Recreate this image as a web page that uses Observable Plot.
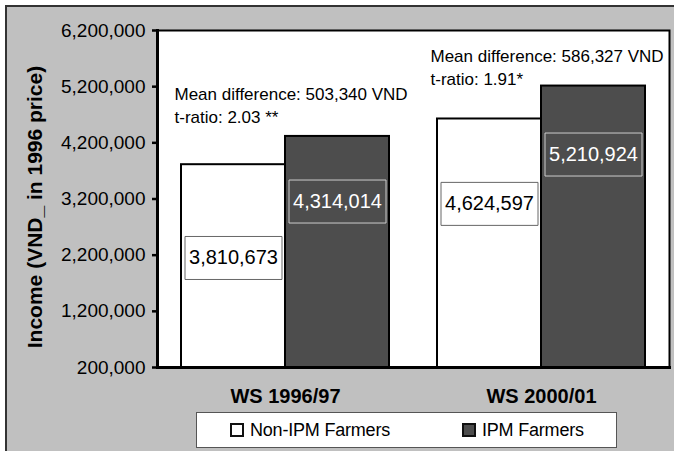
<!DOCTYPE html>
<html>
<head>
<meta charset="utf-8">
<script src="https://cdn.jsdelivr.net/npm/d3@7"></script>
<script src="https://cdn.jsdelivr.net/npm/@observablehq/plot@0.6"></script>
<style>
  html, body { margin: 0; padding: 0; background: #fff; }
  body { width: 674px; height: 451px; position: relative; overflow: hidden; font-family: "Liberation Sans", Arial, sans-serif; }
  #bg { position: absolute; left: 5px; top: 5px; width: 720px; height: 520px; background: #c0c0c0; border-left: 2px solid #333; border-top: 2px solid #333; }
  #chart { position: absolute; left: 0; top: 0; }
  #legend { position: absolute; left: 196px; top: 412px; width: 419px; height: 34px; background: #fff; border: 1px solid #555; }
  .item { position: absolute; top: 0; height: 34px; display: flex; align-items: center; font-size: 18px; color: #000; letter-spacing: -0.2px; }
  .sw { width: 10px; height: 10px; border: 2px solid #111; margin-right: 6px; }
</style>
</head>
<body>
<div id="bg"></div>
<div id="chart"></div>
<div id="legend"></div>
<script>
// ---- data ----
const seasons = ["WS 1996/97", "WS 2000/01"];
const groups = ["Non-IPM Farmers", "IPM Farmers"];
const nonIpmIncome = [3810673, 4624597];
const ipmIncome = [4314014, 5210924];
const meanDifference = ["503,340 VND", "586,327 VND"];
const tRatio = ["2.03 **", "1.91*"];
const yTicks = [200000, 1200000, 2200000, 3200000, 4200000, 5200000, 6200000];
// where each value label box sits (data units)
const nonIpmLabelAt = [2150000, 3113000];
const ipmLabelAt = [3155000, 3992000];

const fmt = d3.format(",");
const nonRows = seasons.map((s, i) => ({season: s, value: nonIpmIncome[i], at: nonIpmLabelAt[i]}));
const ipmRows = seasons.map((s, i) => ({season: s, value: ipmIncome[i], at: ipmLabelAt[i]}));
const annRows = seasons.map((s, i) => ({season: s, text: `Mean difference: ${meanDifference[i]}\nt-ratio: ${tRatio[i]}`}));

const base = yTicks[0];
const half = 104;
const boxSymbol = {draw(ctx) { ctx.rect(-48.5, -21.5, 97, 43); }};
const IPM = "#4d4d4d";

const chart = Plot.plot({
  width: 674,
  height: 451,
  marginLeft: 157,
  marginTop: 30,
  marginRight: 5,
  marginBottom: 84,
  style: {fontFamily: "'Liberation Sans', Arial, sans-serif", background: "transparent", color: "#000", overflow: "visible"},
  x: {domain: seasons, paddingInner: 0.1875, paddingOuter: 0.09375},
  y: {domain: [yTicks[0], yTicks[yTicks.length - 1]]},
  marks: [
    Plot.frame({fill: "#fff", stroke: "#000", strokeWidth: 2}),
    Plot.barY(nonRows, {x: "season", y1: base, y2: "value", insetRight: half, fill: "#fff", stroke: "#000", strokeWidth: 2}),
    Plot.barY(ipmRows, {x: "season", y1: base, y2: "value", insetLeft: half, fill: IPM, stroke: "#000", strokeWidth: 2}),
    Plot.dot(nonRows, {x: "season", y: "at", dx: -half / 2, r: 1, symbol: boxSymbol, fill: "#fff", stroke: "#666", strokeWidth: 1}),
    Plot.dot(ipmRows, {x: "season", y: "at", dx: half / 2, r: 1, symbol: boxSymbol, fill: IPM, stroke: "#ccc", strokeWidth: 1}),
    Plot.text(nonRows, {x: "season", y: "at", dx: -half / 2, text: d => fmt(d.value), fill: "#000", fontSize: 20}),
    Plot.text(ipmRows, {x: "season", y: "at", dx: half / 2, text: d => fmt(d.value), fill: "#fff", fontSize: 20}),
    Plot.text(annRows.slice(0, 1), {x: "season", text: "text", frameAnchor: "top", dy: 53, dx: -111, textAnchor: "start", lineAnchor: "top", lineHeight: 1.35, fontSize: 17, fill: "#000"}),
    Plot.text(annRows.slice(1, 2), {x: "season", text: "text", frameAnchor: "top", dy: 15, dx: -111, textAnchor: "start", lineAnchor: "top", lineHeight: 1.35, fontSize: 17, fill: "#000", letterSpacing: -0.3}),
    Plot.frame({anchor: "left", stroke: "#000", strokeWidth: 3}),
    Plot.frame({anchor: "bottom", stroke: "#000", strokeWidth: 3}),
    Plot.axisY({ticks: yTicks, tickFormat: fmt, tickSize: 5, tickPadding: 7, fontSize: 19, strokeWidth: 2.5, label: null}),
    Plot.axisX({tickSize: 0, tickPadding: 21, fontSize: 20, fontWeight: "bold", label: null}),
    Plot.text(["Income (VND_ in 1996 price)"], {frameAnchor: "left", textAnchor: "middle", lineAnchor: "middle", dx: -122, dy: 8, rotate: -90, fontSize: 21, fontWeight: "bold", fill: "#000"})
  ]
});
document.getElementById("chart").appendChild(chart);

// legend
const legend = document.getElementById("legend");
const items = [
  {label: groups[0], color: "#fff", left: 33},
  {label: groups[1], color: IPM, left: 265}
];
for (const it of items) {
  const el = document.createElement("div");
  el.className = "item";
  el.style.left = it.left + "px";
  const sw = document.createElement("span");
  sw.className = "sw";
  sw.style.background = it.color;
  el.appendChild(sw);
  el.appendChild(document.createTextNode(it.label));
  legend.appendChild(el);
}
</script>
</body>
</html>
